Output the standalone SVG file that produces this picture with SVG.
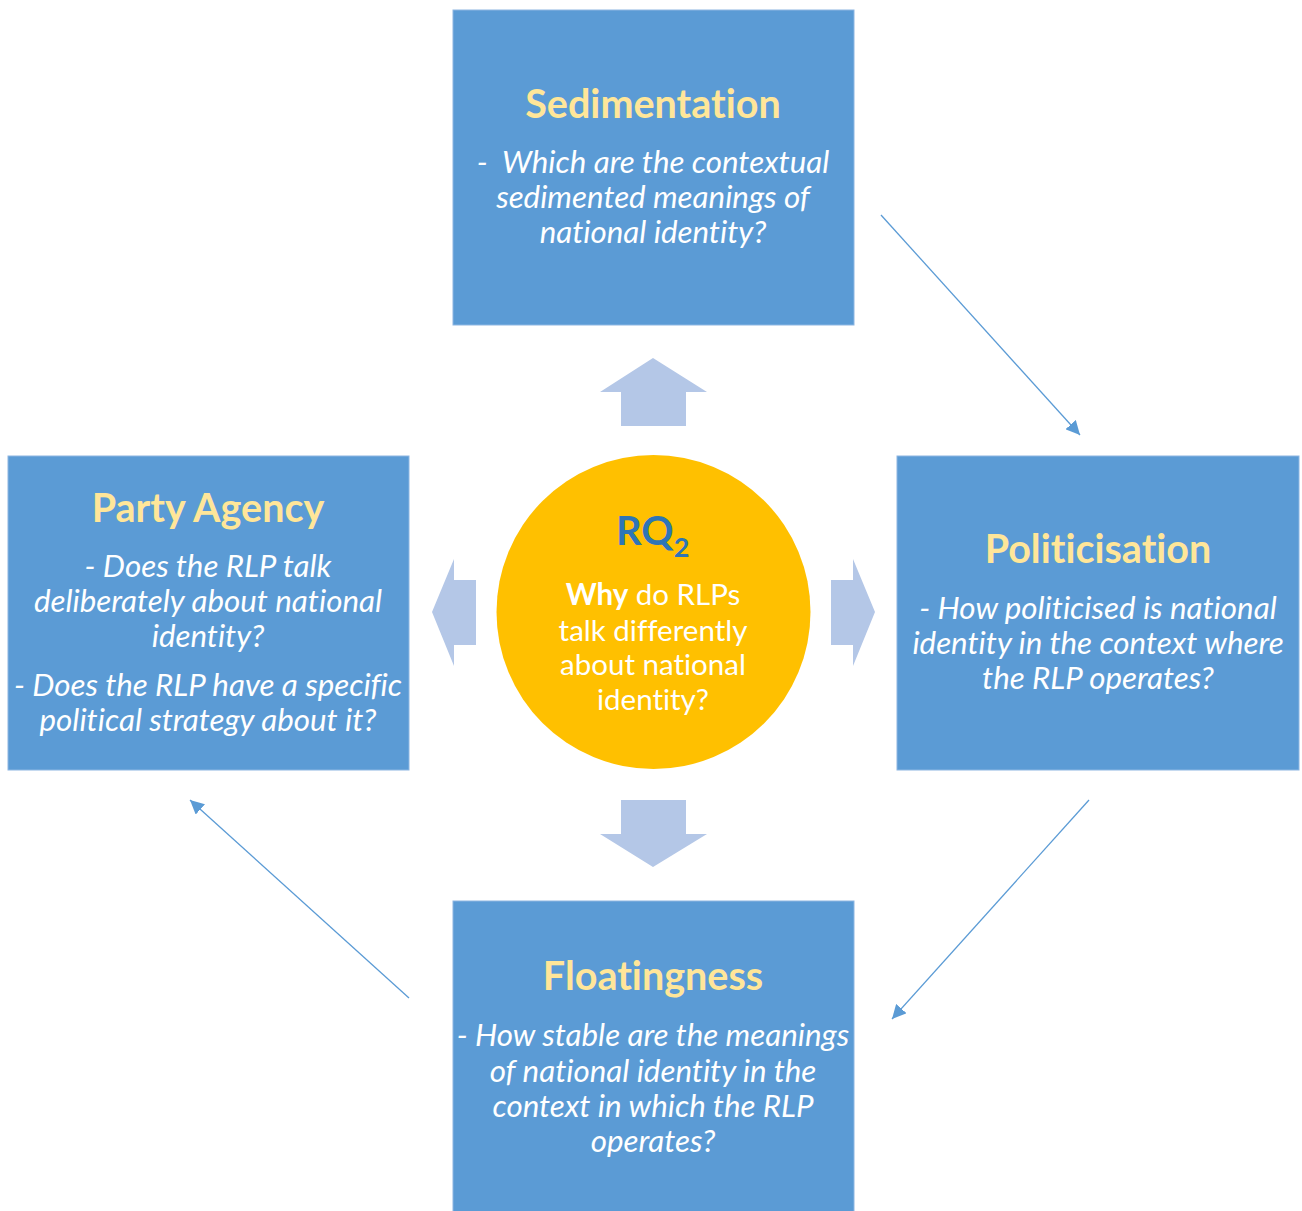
<svg xmlns="http://www.w3.org/2000/svg" width="1302" height="1211" viewBox="0 0 1302 1211">
  <style>
    text { font-variant-ligatures: none; }
    .box { fill: #5B9BD5; stroke: #8DB6E2; stroke-width: 1; }
    .title { font-family: Lato, "Open Sans", sans-serif; font-weight: bold; font-size: 39.5px; fill: #FFE699; text-anchor: middle; }
    .body { font-family: Lato, "Open Sans", sans-serif; font-style: italic; font-size: 31.3px; fill: #FFFFFF; text-anchor: middle; }
    .core { font-family: Lato, "Open Sans", sans-serif; font-size: 29.5px; fill: #FFFFFF; text-anchor: middle; }
    .rq { font-family: Lato, "Open Sans", sans-serif; font-weight: bold; font-size: 40px; fill: #2E75B6; }
    .block { fill: #B4C7E7; }
    .link { stroke: #5B9BD5; stroke-width: 1.3; fill: none; marker-end: url(#head); }
  </style>
  <defs>
    <marker id="head" viewBox="0 0 10 10" refX="10" refY="5" markerWidth="14" markerHeight="14" markerUnits="userSpaceOnUse" orient="auto">
      <path d="M0,0 L10,5 L0,10 z" fill="#5B9BD5"/>
    </marker>
  </defs>
  <rect width="1302" height="1211" fill="#FFFFFF"/>

  <g id="sedimentation">
    <rect class="box" x="453" y="10" width="401" height="315"/>
    <text class="title" x="653" y="118">Sedimentation</text>
    <text class="body" x="653" y="173" xml:space="preserve">-  Which are the contextual</text>
    <text class="body" x="653" y="208">sedimented meanings of</text>
    <text class="body" x="653" y="243">national identity?</text>
  </g>

  <g id="party-agency">
    <rect class="box" x="8" y="456" width="401" height="314"/>
    <text class="title" x="208" y="522">Party Agency</text>
    <text class="body" x="208" y="577">- Does the RLP talk</text>
    <text class="body" x="208" y="612">deliberately about national</text>
    <text class="body" x="208" y="647">identity?</text>
    <text class="body" x="208" y="696">- Does the RLP have a specific</text>
    <text class="body" x="208" y="731">political strategy about it?</text>
  </g>

  <g id="politicisation">
    <rect class="box" x="897" y="456" width="402" height="314"/>
    <text class="title" x="1098" y="563">Politicisation</text>
    <text class="body" x="1098" y="619">- How politicised is national</text>
    <text class="body" x="1098" y="654">identity in the context where</text>
    <text class="body" x="1098" y="689">the RLP operates?</text>
  </g>

  <g id="floatingness">
    <rect class="box" x="453" y="901" width="401" height="315"/>
    <text class="title" x="653" y="990">Floatingness</text>
    <text class="body" x="653" y="1046">- How stable are the meanings</text>
    <text class="body" x="653" y="1082">of national identity in the</text>
    <text class="body" x="653" y="1117">context in which the RLP</text>
    <text class="body" x="653" y="1152">operates?</text>
  </g>

  <g id="rq2">
    <circle cx="653.5" cy="612" r="157" fill="#FFC000"/>
    <text class="rq" x="616" y="545">RQ<tspan font-size="27" dy="12">2</tspan></text>
    <text class="core" x="653" y="605"><tspan font-weight="bold">Why</tspan> do RLPs</text>
    <text class="core" x="653" y="641">talk differently</text>
    <text class="core" x="653" y="675">about national</text>
    <text class="core" x="653" y="710">identity?</text>
  </g>

  <g id="connectors">
    <!-- block arrows pointing out from the centre -->
    <polygon class="block" points="653,358 707,392 686,392 686,426 621,426 621,392 600,392"/>
    <polygon class="block" points="653,867 707,834 686,834 686,800 621,800 621,834 600,834"/>
    <polygon class="block" points="432,612 454,559 454,580 476,580 476,645 454,645 454,666"/>
    <polygon class="block" points="875,612 853,559 853,580 831,580 831,645 853,645 853,666"/>
    <!-- thin cycle arrows -->
    <line class="link" x1="881" y1="215" x2="1080" y2="435"/>
    <line class="link" x1="1089" y1="800" x2="892" y2="1019"/>
    <line class="link" x1="409" y1="998" x2="190" y2="800"/>
  </g>
</svg>
